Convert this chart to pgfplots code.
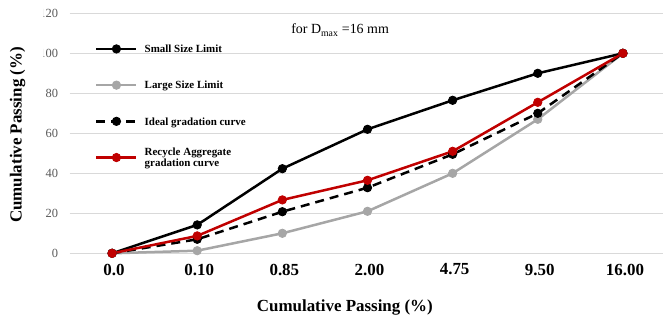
\documentclass[border=0pt]{standalone}
\usepackage{pgfplots}
\pgfplotsset{compat=1.18}
\usepackage{fontspec}
\setmainfont{Liberation Serif}
\definecolor{gridgray}{HTML}{D9D9D9}
\definecolor{lgray}{HTML}{A6A6A6}
\definecolor{dred}{HTML}{C00000}
\definecolor{ticktext}{HTML}{595959}
\begin{document}
\begin{tikzpicture}
\begin{axis}[
  at={(69.5bp,66.7bp)}, anchor=south west,
  scale only axis, width=596bp, height=240bp,
  xmin=-0.5, xmax=6.5, ymin=0, ymax=120,
  xtick={0,...,6},
  xticklabels={0.0,0.10,0.85,2.00,4.75,9.50,16.00},
  ytick={0,20,...,120},
  ymajorgrids,
  major grid style={gridgray, line width=1bp},
  axis line style={draw=none},
  tick style={draw=none},
  /pgf/number format/assume math mode=true,
  x tick label style={font=\fontsize{17}{17}\selectfont\bfseries, yshift=-7bp, xshift=2bp},
  y tick label style={font=\fontsize{12.5}{12.5}\selectfont, text=ticktext, xshift=-8bp},
  xlabel={Cumulative Passing (\%)},
  ylabel={Cumulative Passing (\%)},
  xlabel style={font=\fontsize{17}{17}\selectfont\bfseries, at={(rel axis cs:0.462,-0.224)}, anchor=center},
  ylabel style={font=\fontsize{17}{17}\selectfont\bfseries, at={(rel axis cs:-0.087,0.493)}, anchor=center,
    fill=white, minimum width=285bp, minimum height=51bp},
  clip=false,
  every axis plot/.append style={line width=2.5bp, mark=*, mark size=4.2bp},
  legend image code/.code={\draw[mark repeat=2,mark phase=2,#1] plot coordinates {(0bp,0bp) (20bp,0bp) (40bp,0bp)};},
  legend cell align=left,
  legend style={at={(rel axis cs:0.0428,0.874)}, anchor=north west, draw=none, fill=none,
    inner sep=0pt, row sep=25.8bp, column sep=7bp,
    nodes={inner sep=0pt, text height=9bp, text depth=1.4bp},
    font=\fontsize{11}{13}\selectfont\bfseries},
]
\addplot[black, mark options={solid, fill=black, line width=0.8bp}] coordinates {(0,0) (1,14.2) (2,42.3) (3,62) (4,76.5) (5,90) (6,100)};
\addlegendentry{Small Size Limit}
\addplot[lgray, mark options={solid, fill=lgray, line width=0.8bp}] coordinates {(0,0) (1,1.3) (2,10) (3,21) (4,40) (5,67) (6,100)};
\addlegendentry{Large Size Limit}
\addplot[black, dash pattern=on 9bp off 6bp, mark options={solid, fill=black, line width=0.8bp}] coordinates {(0,0) (1,7) (2,20.8) (3,32.8) (4,49.5) (5,70) (6,100)};
\addlegendentry{Ideal gradation curve}
\addplot[dred, mark options={solid, fill=dred, line width=0.8bp}] coordinates {(0,0) (1,8.7) (2,26.7) (3,36.5) (4,51) (5,75.5) (6,100)};
\addlegendentry{\smash{\begin{tabular}[c]{@{}l@{}}Recycle Aggregate\\[-2bp]gradation curve\end{tabular}}}
\node[font=\fontsize{14}{14}\selectfont, anchor=center] at (rel axis cs:0.454,0.930) {for D\textsubscript{max} =16 mm};
\end{axis}
\pgfresetboundingbox
\useasboundingbox (0,0) rectangle (663bp,320bp);
\end{tikzpicture}
\end{document}
